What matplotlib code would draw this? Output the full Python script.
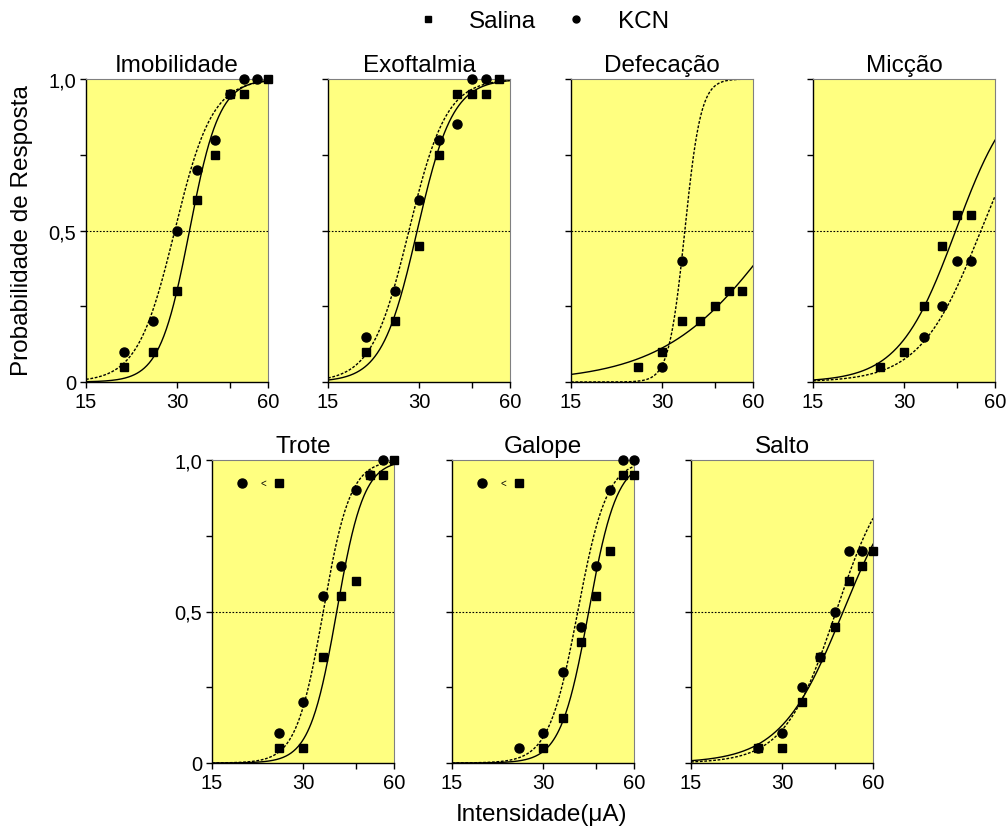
import numpy as np
import matplotlib
matplotlib.use("Agg")
import matplotlib.pyplot as plt
from matplotlib.ticker import FixedLocator, NullFormatter
from matplotlib.lines import Line2D

plt.rcParams['font.family'] = ['Liberation Sans', 'DejaVu Sans']

# panel titles
titles = ["Imobilidade", "Exoftalmia", "Defecação", "Micção",
          "Trote", "Galope", "Salto"]

# Salina (squares) points
sal_x = [[20, 25, 30, 35, 40, 45, 50, 60],
         [20, 25, 30, 35, 40, 45, 50, 55],
         [25, 30, 35, 40, 45, 50, 55],
         [25, 30, 35, 40, 45, 50],
         [25, 30, 35, 40, 45, 50, 55, 60],
         [30, 35, 40, 45, 50, 55, 60],
         [25, 30, 35, 40, 45, 50, 55, 60]]
sal_y = [[0.05, 0.10, 0.30, 0.60, 0.75, 0.95, 0.95, 1.0],
         [0.10, 0.20, 0.45, 0.75, 0.95, 0.95, 0.95, 1.0],
         [0.05, 0.10, 0.20, 0.20, 0.25, 0.30, 0.30],
         [0.05, 0.10, 0.25, 0.45, 0.55, 0.55],
         [0.05, 0.05, 0.35, 0.55, 0.60, 0.95, 0.95, 1.0],
         [0.05, 0.15, 0.40, 0.55, 0.70, 0.95, 0.95],
         [0.05, 0.05, 0.20, 0.35, 0.45, 0.60, 0.65, 0.70]]

# KCN (circles) points
kcn_x = [[20, 25, 30, 35, 40, 45, 50, 55],
         [20, 25, 30, 35, 40, 45, 50],
         [30, 35],
         [35, 40, 45, 50],
         [25, 30, 35, 40, 45, 50, 55],
         [25, 30, 35, 40, 45, 50, 55, 60],
         [25, 30, 35, 40, 45, 50, 55]]
kcn_y = [[0.10, 0.20, 0.50, 0.70, 0.80, 0.95, 1.0, 1.0],
         [0.15, 0.30, 0.60, 0.80, 0.85, 1.0, 1.0],
         [0.05, 0.40],
         [0.15, 0.25, 0.40, 0.40],
         [0.10, 0.20, 0.55, 0.65, 0.90, 0.95, 1.0],
         [0.05, 0.10, 0.30, 0.45, 0.65, 0.90, 1.0, 1.0],
         [0.05, 0.10, 0.25, 0.35, 0.50, 0.70, 0.70]]

# fitted curves: (ED50, slope)
sal_fit = [(33.0, 8.8), (29.6, 7.4), (73.8, 2.3), (44.5, 4.6),
           (38.8, 9.7), (42.5, 9.3), (47.8, 4.2)]
kcn_fit = [(29.5, 7.0), (27.8, 7.0), (35.7, 16.4), (53.9, 4.3),
           (35.0, 9.7), (39.1, 9.0), (45.3, 5.1)]

# which panels have the "● < ■" note
has_note = [False, False, False, False, True, True, False]

# axes positions in pixels (left, top) ; size shared
W, H = 1007, 828
pos_px = [(86, 80), (328, 80), (571, 80), (813, 80),
          (212, 461), (452, 461), (691, 461)]
aw, ah = 182, 303

yellow = '#FFFF80'
fs_big = 17.5


def hill(x, ed50, h):
    return 1.0 / (1.0 + (ed50 / x) ** h)


fig = plt.figure(figsize=(W / 100, H / 100), dpi=100)
xs = np.logspace(np.log10(15), np.log10(60), 300)

for i, (px, py) in enumerate(pos_px):
    ax = fig.add_axes([px / W, 1 - (py + ah) / H, aw / W, ah / H])
    ax.set_facecolor(yellow)
    ax.set_xscale('log')
    ax.set_xlim(15, 60)
    ax.set_ylim(0, 1)

    ax.axhline(0.5, color='black', lw=0.8, ls=(0, (1.5, 1.5)))
    ax.plot(xs, hill(xs, *sal_fit[i]), color='black', lw=1.0)
    ax.plot(xs, hill(xs, *kcn_fit[i]), color='black', lw=1.0, ls=(0, (2, 1.2)))

    ax.plot(sal_x[i], sal_y[i], 's', color='black', ms=6, clip_on=False, zorder=5)
    ax.plot(kcn_x[i], kcn_y[i], 'o', color='black', ms=6.5, clip_on=False, zorder=6)

    ax.xaxis.set_major_locator(FixedLocator([15, 30, 45, 60]))
    ax.xaxis.set_minor_locator(FixedLocator([]))
    ax.set_xticklabels(['15', '30', '', '60'])
    ax.xaxis.set_minor_formatter(NullFormatter())
    ax.set_yticks([0, 0.25, 0.5, 0.75, 1.0])
    if i in (0, 4):
        ax.set_yticklabels(['0', '', '0,5', '', '1,0'])
    else:
        ax.set_yticklabels([])
    ax.tick_params(direction='out', length=4, width=1, labelsize=14.5, pad=3)

    ax.spines['top'].set_color('#808080')
    ax.spines['right'].set_color('#808080')
    for s in ('left', 'bottom'):
        ax.spines[s].set_linewidth(1.0)

    ax.set_title(titles[i], fontsize=fs_big, pad=6)

    if has_note[i]:
        ax.plot([0.165], [0.924], 'o', color='black', ms=6.5, transform=ax.transAxes)
        ax.text(0.28, 0.924, '<', fontsize=7, ha='center', va='center',
                transform=ax.transAxes)
        ax.plot([0.37], [0.924], 's', color='black', ms=6, transform=ax.transAxes)

fig.text(22 / W, 1 - 231 / H, 'Probabilidade de Resposta', rotation=90,
         fontsize=fs_big, ha='center', va='center')
fig.text(541 / W, 1 - 815 / H, 'Intensidade(\u03bcA)', fontsize=fs_big,
         ha='center', va='center')

handles = [Line2D([], [], ls='', marker='s', color='black', ms=5),
           Line2D([], [], ls='', marker='o', color='black', ms=5)]
fig.legend(handles, ['Salina', 'KCN'], loc='center', ncol=2,
           bbox_to_anchor=(536 / W, 1 - 22 / H), frameon=False,
           fontsize=fs_big, handlelength=2.0, handletextpad=0.7,
           columnspacing=0.65)

fig.savefig('out.png', dpi=100)
